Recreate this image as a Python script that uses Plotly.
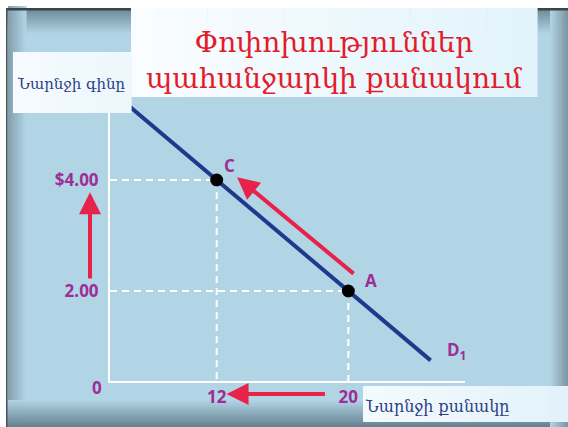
import plotly.graph_objects as go

# ---------------- data ----------------
demand_q = [6, 25]                 # quantity of oranges (line ends)
demand_p = [5.5, 0.75]             # price
point_names = ["C", "A"]
point_q = [12, 20]
point_p = [4.0, 2.0]
price_ticks = [2, 4]
price_ticklabels = ["2.00", "$4.00"]
qty_ticks = [12, 20]
qty_ticklabels = ["12", "20"]

title_text = "Փոփոխություններ<br>պահանջարկի քանակում"
y_label = "Նարնջի գինը"
x_label = "Նարնջի քանակը"

# ---------------- layout geometry ----------------
W, H = 568, 427
L, R, T, B = 110, 103, 100, 46
PW, PH = W - L - R, H - T - B

def fx(px):
    return (px - L) / PW

def fy(py):
    return (H - B - py) / PH

BLUE = (178, 213, 230)
PURPLE = "#9c2f96"
RED = "#e8234b"

def hexc(c):
    return "#%02x%02x%02x" % tuple(int(round(v)) for v in c)

def mix(a, b, t):
    return tuple(a[i] + (b[i] - a[i]) * t for i in range(3))

shapes = []

def rect(x0, y0, x1, y1, color, layer="below"):
    shapes.append(dict(type="rect", xref="paper", yref="paper",
                       x0=fx(x0), x1=fx(x1), y0=fy(y1), y1=fy(y0),
                       fillcolor=color, line=dict(width=0), layer=layer))

def hgrad(x0, x1, y0, y1, c0, c1, n=12, layer="below"):
    step = (x1 - x0) / n
    for i in range(n):
        rect(x0 + i * step, y0, x0 + (i + 1) * step + 0.6, y1,
             hexc(mix(c0, c1, (i + 0.5) / n)), layer)

def vgrad(y0, y1, x0, x1, c0, c1, n=12, layer="below"):
    step = (y1 - y0) / n
    for i in range(n):
        rect(x0, y0 + i * step, x1, y0 + (i + 1) * step + 0.6,
             hexc(mix(c0, c1, (i + 0.5) / n)), layer)

# background frame
rect(6, 8, 568, 427, hexc(BLUE))
vgrad(10, 34, 6, 568, (112, 140, 154), BLUE, n=12)           # top bevel
hgrad(8, 26, 6, 427, (130, 158, 172), BLUE, n=10)            # left bevel
vgrad(400, 427, 6, 568, BLUE, (100, 128, 142), n=12)         # bottom bevel
hgrad(550, 568, 8, 427, BLUE, (122, 148, 160), n=10)         # right bevel
rect(6, 8, 568, 10.5, "#3e4348")                              # top dark line
rect(6, 8, 7.5, 427, "#4a5056")                               # left dark line

# text boxes (above traces)
hgrad(131, 537, 8, 97, (250, 253, 255), (226, 243, 251), n=16, layer="above")
hgrad(13, 131, 52, 113, (246, 251, 254), (236, 247, 252), n=8, layer="above")
hgrad(363, 568, 386, 422, (244, 250, 253), (226, 242, 250), n=10, layer="above")

fig = go.Figure()

# dashed guide lines from the points to the axes
for q, p in zip(point_q, point_p):
    fig.add_trace(go.Scatter(x=[5.515, q], y=[p, p], mode="lines",
                             line=dict(color="white", width=2, dash="7px,5px"),
                             hoverinfo="skip", showlegend=False))
    fig.add_trace(go.Scatter(x=[q, q], y=[p, 0.378], mode="lines",
                             line=dict(color="white", width=2, dash="7px,5px"),
                             hoverinfo="skip", showlegend=False))

# demand line
fig.add_trace(go.Scatter(x=demand_q, y=demand_p, mode="lines",
                         line=dict(color="#1f3a8c", width=4),
                         showlegend=False, cliponaxis=False))

# points
fig.add_trace(go.Scatter(x=point_q, y=point_p, mode="markers",
                         marker=dict(color="black", size=13),
                         showlegend=False))

annotations = []
label_font = dict(family="Open Sans", size=17, color=PURPLE, weight="bold")
mid = dict(xanchor="center", yanchor="middle", showarrow=False)
# point labels
annotations.append(dict(mid, x=point_q[0], y=point_p[0], xref="x", yref="y", text="C",
                        xshift=13, yshift=14, font=label_font))
annotations.append(dict(mid, x=point_q[1], y=point_p[1], xref="x", yref="y", text="A",
                        xshift=23, yshift=10, font=label_font))
annotations.append(dict(mid, x=demand_q[1], y=demand_p[1], xref="x", yref="y",
                        text="D<sub>1</sub>", xshift=26, yshift=10,
                        font=label_font))
# origin label
annotations.append(dict(mid, x=0, y=0, xref="paper", yref="paper", text="0",
                        xshift=-13, yshift=-6, font=label_font))

# red arrows
arrow = dict(text="", showarrow=True, arrowhead=2, arrowsize=1.1, arrowwidth=4,
             arrowcolor=RED, standoff=0, startstandoff=0)
# diagonal arrow A -> C
annotations.append(dict(arrow, x=13.24, y=4.05, xref="x", yref="y",
                        ax=20.41, ay=2.29, axref="x", ayref="y"))
# vertical arrow (price rise)
annotations.append(dict(arrow, x=fx(90), y=3.78, xref="paper", yref="y",
                        ax=0, ay=2.2, axref="pixel", ayref="y"))
# horizontal arrow (quantity decrease)
annotations.append(dict(arrow, x=12.6, y=fy(394), xref="x", yref="paper",
                        ax=18.67, ay=0, axref="x", ayref="pixel"))

# titles
annotations.append(dict(mid, x=fx(334), y=fy(60), xref="paper", yref="paper",
                        text=title_text, align="center",
                        font=dict(family="DejaVu Serif", size=28, color="#e21d2b")))
annotations.append(dict(mid, x=fx(71), y=fy(84), xref="paper", yref="paper",
                        text=y_label,
                        font=dict(family="DejaVu Serif", size=15, color="#2b3f88")))
annotations.append(dict(mid, x=fx(437), y=fy(406), xref="paper", yref="paper",
                        text=x_label,
                        font=dict(family="DejaVu Serif", size=16, color="#2b3f88")))

fig.update_layout(
    width=W, height=H,
    margin=dict(l=L, r=R, t=T, b=B, pad=0),
    paper_bgcolor="white",
    plot_bgcolor="rgba(0,0,0,0)",
    shapes=shapes,
    annotations=annotations,
    showlegend=False,
    xaxis=dict(range=[5.515, 27.09], showgrid=False, zeroline=False,
               showline=True, linecolor="white", linewidth=2,
               tickvals=qty_ticks, ticktext=qty_ticklabels, ticks="",
               ticklabelstandoff=0, tickfont=label_font, fixedrange=True),
    yaxis=dict(range=[0.378, 5.441], showgrid=False, zeroline=False,
               showline=True, linecolor="white", linewidth=2,
               tickvals=price_ticks, ticktext=price_ticklabels, ticks="",
               ticklabelstandoff=6, tickfont=label_font, fixedrange=True),
)

fig.write_html("out.html", config={"displayModeBar": False},
               post_script="document.body.style.margin='0';document.body.style.padding='0';")
